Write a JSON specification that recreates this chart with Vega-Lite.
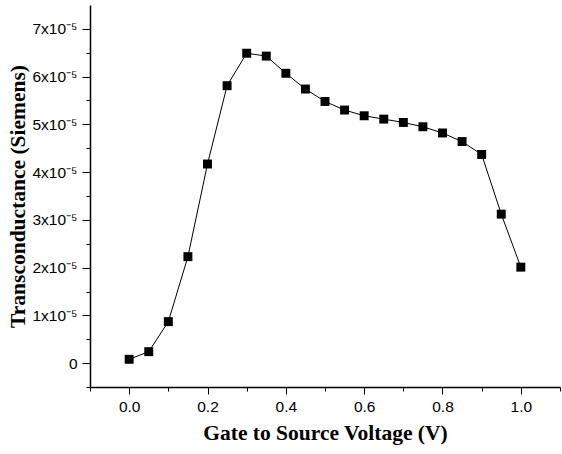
{
  "$schema": "https://vega.github.io/schema/vega-lite/v6.json",
  "width": 470,
  "height": 382,
  "autosize": {"type": "none"},
  "padding": {"left": 90, "top": 5, "right": 2, "bottom": 67},
  "background": "white",
  "config": {"view": {"stroke": null}},
  "data": {
    "values": [
      {"v": 0.0, "g": 0.08e-5},
      {"v": 0.05, "g": 0.24e-5},
      {"v": 0.1, "g": 0.87e-5},
      {"v": 0.15, "g": 2.23e-5},
      {"v": 0.2, "g": 4.17e-5},
      {"v": 0.25, "g": 5.81e-5},
      {"v": 0.3, "g": 6.49e-5},
      {"v": 0.35, "g": 6.43e-5},
      {"v": 0.4, "g": 6.07e-5},
      {"v": 0.45, "g": 5.74e-5},
      {"v": 0.5, "g": 5.48e-5},
      {"v": 0.55, "g": 5.30e-5},
      {"v": 0.6, "g": 5.18e-5},
      {"v": 0.65, "g": 5.11e-5},
      {"v": 0.7, "g": 5.04e-5},
      {"v": 0.75, "g": 4.95e-5},
      {"v": 0.8, "g": 4.82e-5},
      {"v": 0.85, "g": 4.64e-5},
      {"v": 0.9, "g": 4.37e-5},
      {"v": 0.95, "g": 3.12e-5},
      {"v": 1.0, "g": 2.01e-5}
    ]
  },
  "encoding": {
    "x": {
      "field": "v",
      "type": "quantitative",
      "scale": {"domain": [-0.1, 1.1], "nice": false, "zero": false},
      "axis": {
        "title": "Gate to Source Voltage (V)",
        "titleFont": "Liberation Serif",
        "titleFontSize": 21.5,
        "titleFontWeight": "bold",
        "titleColor": "black",
        "titlePadding": 8,
        "values": [-0.1, 0, 0.1, 0.2, 0.3, 0.4, 0.5, 0.6, 0.7, 0.8, 0.9, 1.0, 1.1],
        "labelExpr": "abs(round(datum.value*10) % 2) == 0 && datum.value > -0.05 && datum.value < 1.05 ? format(datum.value, '.1f') : ''",
        "labelFont": "Liberation Sans",
        "labelFontSize": 15.5,
        "labelColor": "black",
        "labelPadding": 5,
        "tickSize": {"condition": {"test": "abs(round(datum.value*10) % 2) == 0", "value": 7}, "value": 4},
        "tickColor": "black",
        "domainColor": "black",
        "domainWidth": 1.5,
        "grid": false
      }
    },
    "y": {
      "field": "g",
      "type": "quantitative",
      "scale": {"domain": [-0.5e-5, 7.5e-5], "nice": false, "zero": false},
      "axis": {
        "title": "Transconductance (Siemens)",
        "titleFont": "Liberation Serif",
        "titleFontSize": 21.5,
        "titleFontWeight": "bold",
        "titleColor": "black",
        "titlePadding": 2,
        "values": [-0.5e-5, 0, 0.5e-5, 1e-5, 1.5e-5, 2e-5, 2.5e-5, 3e-5, 3.5e-5, 4e-5, 4.5e-5, 5e-5, 5.5e-5, 6e-5, 6.5e-5, 7e-5],
        "labelExpr": "abs(datum.value*1e5 - round(datum.value*1e5)) > 0.01 ? '' : (round(datum.value*1e5) == 0 ? '0' : round(datum.value*1e5) + 'x10⁻⁵')",
        "labelFont": "Liberation Sans",
        "labelFontSize": 15.5,
        "labelColor": "black",
        "labelPadding": 5,
        "tickSize": {"condition": {"test": "abs(datum.value*1e5 - round(datum.value*1e5)) < 0.01", "value": 8}, "value": 4},
        "tickColor": "black",
        "domainColor": "black",
        "domainWidth": 1.5,
        "grid": false
      }
    }
  },
  "layer": [
    {"mark": {"type": "line", "color": "black", "strokeWidth": 1}},
    {"mark": {"type": "point", "shape": "square", "filled": true, "color": "black", "opacity": 1, "size": 80}}
  ]
}
